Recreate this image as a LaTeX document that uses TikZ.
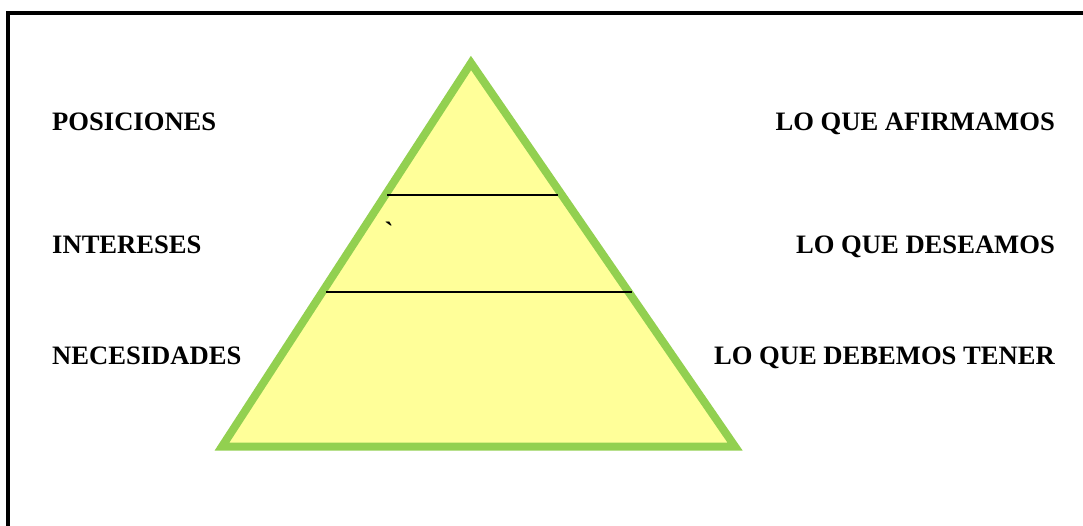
\documentclass[tikz,border=0pt]{standalone}
\usepackage{fontspec}
\setmainfont{Liberation Serif}
\definecolor{pyrfill}{RGB}{255,255,153}
\definecolor{pyrgreen}{RGB}{146,208,80}
\begin{document}
\begin{tikzpicture}[x=1pt,y=-1pt,
  lbl/.style={inner sep=0pt,font=\fontsize{26.6}{31}\selectfont\bfseries},
  lefttxt/.style={lbl,anchor=base west},
  righttxt/.style={lbl,anchor=base east},
  level/.style={line width=2pt,black},
  frame/.style={line width=4pt,black}]
\useasboundingbox (0,0) rectangle (1083,525);
% frame (top and left edges only)
\draw[frame] (8,527) -- (8,12.5) -- (1085,12.5);
% pyramid
\coordinate (apex) at (471,63);
\coordinate (bl) at (222,446.5);
\coordinate (br) at (735,446.5);
\draw[line width=8pt,pyrgreen,fill=pyrfill,line join=miter] (apex) -- (bl) -- (br) -- cycle;
% level lines
\coordinate (l1a) at (387,195);
\coordinate (l1b) at (558,195);
\coordinate (l2a) at (326,292);
\coordinate (l2b) at (632,292);
\draw[level] (l1a) -- (l1b);
\draw[level] (l2a) -- (l2b);
\node[lbl] (tick) at (389,231) {\textasciigrave};
% labels
\node[lefttxt] (pos) at (52,130) {POSICIONES};
\node[lefttxt] (int) at (52,253) {INTERESES};
\node[lefttxt] (nec) at (52,364) {NECESIDADES};
\node[righttxt] (afi) at (1055,130) {LO QUE AFIRMAMOS};
\node[righttxt] (des) at (1055,253) {LO QUE DESEAMOS};
\node[righttxt] (deb) at (1055,364) {LO QUE DEBEMOS TENER};
\end{tikzpicture}
\end{document}
